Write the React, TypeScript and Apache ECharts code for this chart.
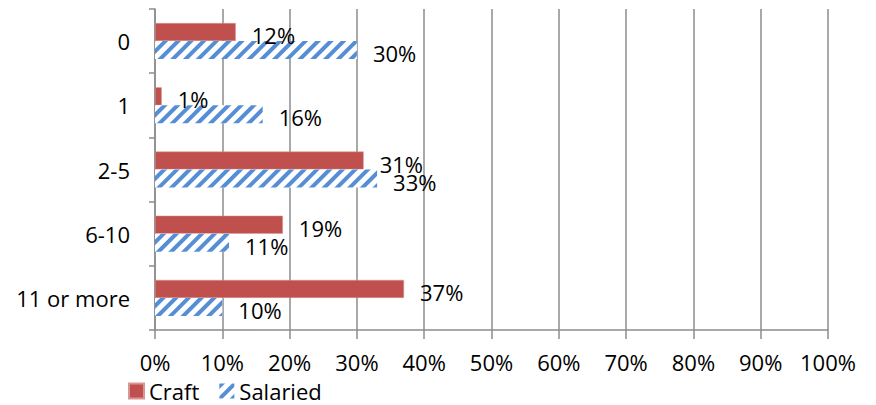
import React, { useEffect, useRef } from "react";
import * as echarts from "echarts";

const categories = ["0", "1", "2-5", "6-10", "11 or more"];
const craftValues = [12, 1, 31, 19, 37];
const salariedValues = [30, 16, 33, 11, 10];
const xTicks = { min: 0, max: 100, interval: 10 };

const FONT = "'Open Sans', sans-serif";
const GRID_COLOR = "#8c8c8c";

export default function App() {
  const ref = useRef<HTMLDivElement>(null);
  useEffect(() => {
    if (!ref.current) return;
    const chart = echarts.init(ref.current, null, { renderer: "svg" });
    const labelStyle = {
      show: true,
      position: "right" as const,
      distance: 16,
      offset: [0, 3],
      fontSize: 22,
      fontFamily: FONT,
      color: "#000",
      formatter: "{c}%",
    };
    chart.setOption({
      animation: false,
      backgroundColor: "#fff",
      textStyle: { fontFamily: FONT },
      grid: { left: 155, right: 48, top: 9, bottom: 75, containLabel: false },
      legend: {
        left: 123,
        top: 375,
        itemWidth: 15,
        itemHeight: 15,
        itemGap: 20,
        textStyle: { fontSize: 22, lineHeight: 22, fontFamily: FONT, color: "#000" },
        data: [
          { name: "Craft", icon: "rect" },
          { name: "Salaried", icon: "rect" },
        ],
      },
      xAxis: {
        type: "value",
        min: xTicks.min,
        max: xTicks.max,
        interval: xTicks.interval,
        axisLine: { show: true, lineStyle: { color: GRID_COLOR, width: 1.5 } },
        axisTick: { show: true, length: 9, lineStyle: { color: GRID_COLOR, width: 1.5 } },
        splitLine: { show: true, lineStyle: { color: GRID_COLOR, width: 1.5 } },
        axisLabel: {
          formatter: "{value}%",
          fontSize: 22,
          lineHeight: 22,
          fontFamily: FONT,
          color: "#000",
          margin: 21,
        },
      },
      yAxis: {
        type: "category",
        data: categories,
        inverse: true,
        axisLine: { show: true, lineStyle: { color: GRID_COLOR, width: 1.5 } },
        axisTick: { show: true, length: 6, lineStyle: { color: GRID_COLOR, width: 1.5 } },
        axisLabel: { fontSize: 22, fontFamily: FONT, color: "#000", margin: 25 },
      },
      series: [
        {
          name: "Craft",
          type: "bar",
          data: craftValues,
          barWidth: 18,
          barGap: "0%",
          itemStyle: { color: "#C0504D", borderColor: "#D99694", borderWidth: 0.5 },
          label: labelStyle,
        },
        {
          name: "Salaried",
          type: "bar",
          data: salariedValues,
          barWidth: 18,
          barGap: "0%",
          itemStyle: {
            color: "#ffffff",
            decal: {
              symbol: "rect",
              symbolSize: 1,
              color: "#558ED5",
              dashArrayX: [1, 0],
              dashArrayY: [4, 5],
              rotation: -Math.PI / 4,
            },
          },
          label: labelStyle,
        },
      ],
    });
    return () => chart.dispose();
  }, []);
  return (
    <div
      ref={ref}
      style={{ position: "absolute", left: 0, top: 0, width: 876, height: 405 }}
    />
  );
}
